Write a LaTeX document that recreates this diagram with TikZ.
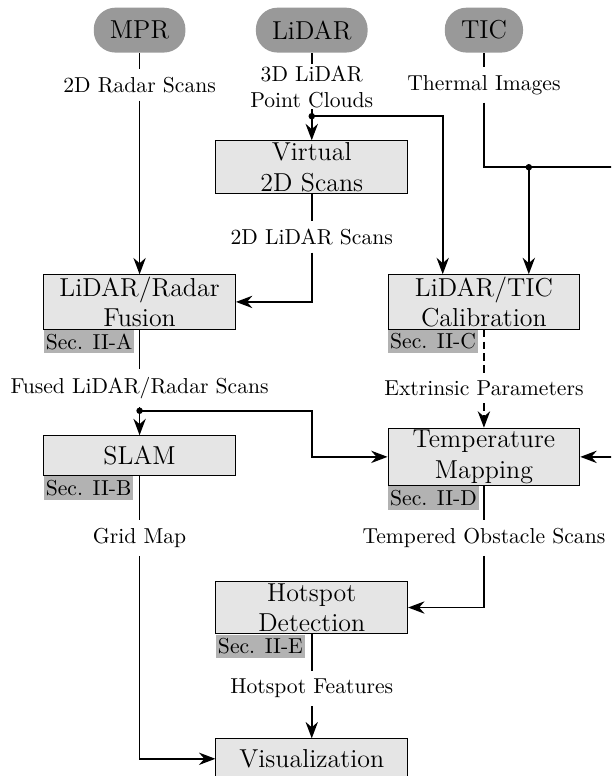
\documentclass[tikz,border=0pt]{standalone}
\usepackage{amsmath}
\usepackage{xcolor}
\usepackage{tikz}
\usetikzlibrary{positioning,arrows.meta}

\begin{document}
\begin{tikzpicture}[
    sensor/.style={rectangle, fill=black!40, rounded corners=10pt, font=\large, minimum height=0.73cm, inner xsep=7.5pt},
    proc/.style={rectangle, draw, thin, fill=black!10, font=\large, minimum width=3.12cm, minimum height=0.65cm, inner sep=1pt, align=center},
    sec/.style={rectangle, fill=black!30, inner xsep=1pt, inner ysep=1.7pt, anchor=north west},
    lbl/.style={align=center, inner sep=3.5pt},
    line/.style={thick},
    arrow/.style={->, thick, >={Stealth[scale=1.15]}}
]
\useasboundingbox (0,0) rectangle (9.94,-12.62);
\clip (0,0) rectangle (9.94,-12.62);
% Sensors
\node[sensor] at (2.27,-0.49) (mpr)   {MPR};
\node[sensor] at (5.07,-0.49) (lidar) {LiDAR};
\node[sensor] at (7.87,-0.49) (tic)   {TIC};
% Processing blocks
\node[proc] at (5.07,-2.72)  (virtual) {Virtual\\2D Scans};
\node[proc] at (2.27,-4.91)  (fusion)  {LiDAR/Radar\\Fusion};
\node[proc] at (7.87,-4.91)  (calib)   {LiDAR/TIC\\Calibration};
\node[proc] at (2.27,-7.41)  (slam)    {SLAM};
\node[proc] at (7.87,-7.43)  (tmap)    {Temperature\\Mapping};
\node[proc] at (5.07,-9.88)  (hotspot) {Hotspot\\Detection};
\node[proc] at (5.07,-12.34) (vis)     {Visualization};
% Section tags
\node[sec] at (fusion.south west)  (secA) {Sec. II-A};
\node[sec] at (slam.south west)    (secB) {Sec. II-B};
\node[sec] at (calib.south west)   (secC) {Sec. II-C};
\node[sec] at (tmap.south west)    (secD) {Sec. II-D};
\node[sec] at (hotspot.south west) (secE) {Sec. II-E};
% Data labels
\node[lbl] at (2.27,-1.38)  (radarlbl)   {2D Radar Scans};
\node[lbl, inner ysep=0.5pt] at (5.07,-1.41) (cloudlbl) {3D LiDAR\\Point Clouds};
\node[lbl] at (7.87,-1.38)  (thermlbl)   {Thermal Images};
\node[lbl] at (5.07,-3.85)  (scanlbl)    {2D LiDAR Scans};
\node[lbl] at (2.27,-6.31)  (fusedlbl)   {Fused LiDAR/Radar Scans};
\node[lbl] at (7.87,-6.31)  (extlbl)     {Extrinsic Parameters};
\node[lbl] at (2.27,-8.75)  (gridlbl)    {Grid Map};
\node[lbl] at (7.87,-8.75)  (templbl)    {Tempered Obstacle Scans};
\node[lbl] at (5.07,-11.20) (featlbl)    {Hotspot Features};
% Junctions
\coordinate (j1) at (5.07,-1.89);
\coordinate (j2) at (8.60,-2.72);
\coordinate (j3) at (2.27,-6.68);
\coordinate (outr) at (10.6,-2.72);

\draw[line]  (mpr) -- (radarlbl);
\draw[arrow] (radarlbl) -- (fusion);
\draw[line]  (lidar) -- (cloudlbl);
\draw[line]  (cloudlbl) -- (j1);
\draw[arrow] (j1) -- (virtual);
\draw[arrow] (j1) -| ([xshift=-0.67cm]calib.north);
\draw[line]  (tic) -- (thermlbl);
\draw[line]  (thermlbl) |- (j2);
\draw[arrow] (j2) -- (j2 |- calib.north);
\draw[arrow] (j2) -- (outr) |- (tmap.east);
\draw[line]  (virtual) -- (scanlbl);
\draw[arrow] (scanlbl) |- (fusion.east);
\draw[line]  (fusion) -- (fusedlbl);
\draw[line]  (fusedlbl) -- (j3);
\draw[arrow] (j3) -- (slam);
\draw[arrow] (j3) -- (j3 -| virtual) |- (tmap.west);
\draw[line, dash pattern=on 3.5pt off 2pt]  (calib) -- (extlbl);
\draw[arrow, dash pattern=on 3.5pt off 2pt] (extlbl) -- (tmap);
\draw[line]  (slam) -- (gridlbl);
\draw[arrow] (gridlbl) |- (vis.west);
\draw[line]  (tmap) -- (templbl);
\draw[arrow] (templbl) |- (hotspot.east);
\draw[line]  (hotspot) -- (featlbl);
\draw[arrow] (featlbl) -- (vis);
\fill (j1) circle (1.5pt);
\fill (j2) circle (1.5pt);
\fill (j3) circle (1.5pt);
\end{tikzpicture}
\end{document}
